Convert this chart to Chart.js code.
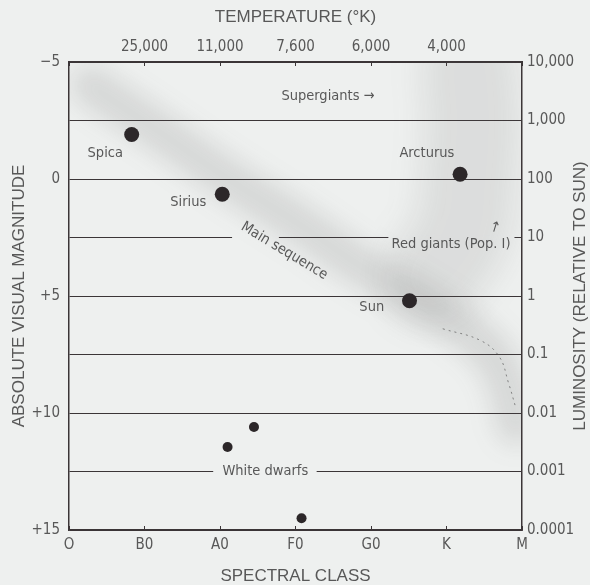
<!DOCTYPE html>
<html lang="en">
<head>
<meta charset="utf-8">
<title>Hertzsprung-Russell diagram</title>
<script src="https://cdn.jsdelivr.net/npm/chart.js@4.4.1/dist/chart.umd.min.js"></script>
<style>
  html, body { margin: 0; padding: 0; background: #eef0ef; }
  #hrChart { display: block; }
</style>
</head>
<body>
<canvas id="hrChart" width="590" height="585"></canvas>
<script>
// axis labels
const spectralClasses = ['O', 'B0', 'A0', 'F0', 'G0', 'K', 'M'];
const temperatureLabels = ['', '25,000', '11,000', '7,600', '6,000', '4,000', ''];
const magnitudeLabels = ['\u22125', '', '0', '', '+5', '', '+10', '', '+15'];
const luminosityLabels = ['10,000', '1,000', '100', '10', '1', '0.1', '0.01', '0.001', '0.0001'];

// named stars (x = spectral class position, y = absolute visual magnitude)
const brightStarNames = ['Spica', 'Sirius', 'Arcturus', 'Sun'];
const brightStarClass = [0.83, 2.03, 5.18, 4.51];
const brightStarMag = [-1.9, 0.65, -0.2, 5.2];

const whiteDwarfClass = [2.45, 2.10, 3.08];
const whiteDwarfMag = [10.6, 11.45, 14.5];

// shaded regions
const mainSequenceClass = [0.28, 1.07, 2.13, 3.06, 3.85, 4.52, 5.11, 5.58, 5.81, 5.93];
const mainSequenceMag = [-4.0, -2.3, 0.05, 1.95, 3.7, 4.95, 6.15, 7.4, 8.8, 10.5];

const giantsClass = [5.3, 5.35, 5.3, 5.2, 4.8];
const giantsMag = [-4.7, -2.5, 0.0, 2.3, 4.2];

const dwarfTailClass = [4.95, 5.45, 5.7, 5.82, 5.92];
const dwarfTailMag = [6.4, 6.9, 7.6, 8.7, 9.8];

const toPoints = (xs, ys) => xs.map((x, i) => ({ x: x, y: ys[i] }));
// tick value (magnitude) -> position in the label lists
const magIndex = (value) => Math.round((value + 5) / 2.5);

const BG = '#eef0ef';
const INK = '#3b3537';
const TEXT = '#585858';
const TICK_FONT = { family: "'DejaVu Sans Condensed', 'DejaVu Sans', sans-serif", size: 15 };
const TITLE_FONT = { family: "'Liberation Sans', Arial, sans-serif", size: 17 };

// text written on the plot, in data coordinates
const plotNotes = [
  { text: 'Supergiants \u2192', x: 3.43, y: -3.52 },
  { text: 'Spica', x: 0.48, y: -1.12 },
  { text: 'Sirius', x: 1.58, y: 0.98 },
  { text: 'Arcturus', x: 4.74, y: -1.11 },
  { text: 'Red giants (Pop. I)', x: 5.06, y: 2.78 },
  { text: '\u2191', x: 5.64, y: 2.1, rotate: 0.3 },
  { text: 'Sun', x: 4.01, y: 5.46 },
  { text: 'Main sequence', x: 2.85, y: 3.08, rotate: 0.54 },
  { text: 'White dwarfs', x: 2.6, y: 12.5 },
];

// breaks in the horizontal rules where labels sit
const ruleBreaks = [
  { from: 2.16, to: 2.78, y: 2.5 },
  { from: 4.23, to: 5.9, y: 2.5 },
  { from: 1.91, to: 3.28, y: 12.5 },
];

const blurPlugin = {
  id: 'blurPlugin',
  beforeDatasetDraw(chart, args) {
    const ds = chart.data.datasets[args.index];
    if (ds.blur) {
      chart.ctx.save();
      chart.ctx.filter = 'blur(' + ds.blur + 'px)';
    }
  },
  afterDatasetDraw(chart, args) {
    const ds = chart.data.datasets[args.index];
    if (ds.blur) {
      chart.ctx.restore();
    }
  },
};

const ruleBreakPlugin = {
  id: 'ruleBreakPlugin',
  beforeDatasetsDraw(chart) {
    const ctx = chart.ctx;
    const xs = chart.scales.x;
    const ys = chart.scales.y;
    ctx.save();
    ctx.fillStyle = BG;
    ruleBreaks.forEach((b) => {
      const x1 = xs.getPixelForValue(b.from);
      const x2 = xs.getPixelForValue(b.to);
      const y = ys.getPixelForValue(b.y);
      ctx.fillRect(x1, y - 2, x2 - x1, 4);
    });
    ctx.restore();
  },
};

const notesPlugin = {
  id: 'notesPlugin',
  afterDatasetsDraw(chart) {
    const ctx = chart.ctx;
    const xs = chart.scales.x;
    const ys = chart.scales.y;
    ctx.save();
    ctx.fillStyle = TEXT;
    ctx.font = (TICK_FONT.size - 0.5) + 'px ' + TICK_FONT.family;
    ctx.textAlign = 'center';
    ctx.textBaseline = 'middle';
    plotNotes.forEach((n) => {
      ctx.save();
      ctx.translate(xs.getPixelForValue(n.x), ys.getPixelForValue(n.y));
      if (n.rotate) ctx.rotate(n.rotate);
      ctx.fillText(n.text, 0, 0);
      ctx.restore();
    });
    ctx.restore();
  },
  afterDraw(chart) {
    // right axis title reads bottom to top, like the left one
    const ctx = chart.ctx;
    const area = chart.chartArea;
    ctx.save();
    ctx.fillStyle = TEXT;
    ctx.font = TITLE_FONT.size + 'px ' + TITLE_FONT.family;
    ctx.textAlign = 'center';
    ctx.textBaseline = 'middle';
    ctx.translate(580, (area.top + area.bottom) / 2);
    ctx.rotate(-Math.PI / 2);
    ctx.fillText('LUMINOSITY (RELATIVE TO SUN)', 0, 0);
    ctx.restore();
  },
};

document.addEventListener('DOMContentLoaded', () => {
  const initializeHrChart = () => {
    const hrCanvas = document.getElementById('hrChart');
    if (!hrCanvas) {
      console.warn('hrChart canvas not found.');
      return;
    }
    new Chart(hrCanvas.getContext('2d'), {
      type: 'scatter',
      data: {
        datasets: [
          {
            label: 'Bright stars',
            data: toPoints(brightStarClass, brightStarMag),
            backgroundColor: '#2c2729',
            borderWidth: 0,
            pointRadius: 7.5,
            order: 1,
          },
          {
            label: 'White dwarfs',
            data: toPoints(whiteDwarfClass, whiteDwarfMag),
            backgroundColor: '#2c2729',
            borderWidth: 0,
            pointRadius: 5,
            order: 1,
          },
          {
            label: 'Dwarf tail',
            data: toPoints(dwarfTailClass, dwarfTailMag),
            showLine: true,
            borderColor: 'rgba(70,70,70,0.6)',
            borderWidth: 1,
            borderDash: [2, 4],
            tension: 0.4,
            pointRadius: 0,
            order: 2,
          },
          {
            label: 'Main sequence',
            data: toPoints(mainSequenceClass, mainSequenceMag),
            showLine: true,
            borderColor: 'rgba(80,80,80,0.15)',
            borderWidth: 40,
            borderCapStyle: 'round',
            borderJoinStyle: 'round',
            tension: 0.4,
            pointRadius: 0,
            blur: 12,
            order: 3,
          },
          {
            label: 'Giants',
            data: toPoints(giantsClass, giantsMag),
            showLine: true,
            borderColor: 'rgba(90,90,90,0.12)',
            borderWidth: 95,
            borderCapStyle: 'round',
            borderJoinStyle: 'round',
            tension: 0.4,
            pointRadius: 0,
            blur: 16,
            order: 3,
          },
        ],
      },
      options: {
        responsive: false,
        animation: false,
        layout: { padding: 0 },
        plugins: {
          legend: { display: false },
          tooltip: { enabled: false },
        },
        scales: {
          x: {
            type: 'linear',
            position: 'bottom',
            min: 0,
            max: 6,
            afterFit: (s) => { s.height = 55; },
            ticks: {
              stepSize: 1,
              color: TEXT,
              font: TICK_FONT,
              padding: 10,
              maxRotation: 0,
              callback: (value) => spectralClasses[value],
            },
            grid: { drawOnChartArea: false, tickLength: -4, color: INK },
            border: { color: INK, width: 1.5 },
            title: {
              display: true,
              text: 'SPECTRAL CLASS',
              color: TEXT,
              font: { ...TITLE_FONT, lineHeight: 1 },
              padding: { top: 0, bottom: 0.5 },
            },
          },
          x2: {
            type: 'linear',
            position: 'top',
            min: 0,
            max: 6,
            afterFit: (s) => { s.height = 62; },
            ticks: {
              stepSize: 1,
              color: TEXT,
              font: TICK_FONT,
              padding: 10,
              maxRotation: 0,
              callback: (value) => temperatureLabels[value],
            },
            grid: { drawOnChartArea: false, tickLength: -4, color: INK },
            border: { color: INK, width: 1.5 },
            title: {
              display: true,
              text: 'TEMPERATURE (\u00b0K)',
              color: TEXT,
              font: TITLE_FONT,
              padding: { top: 6.8, bottom: 0 },
            },
          },
          y: {
            type: 'linear',
            position: 'left',
            min: -5,
            max: 15,
            reverse: true,
            afterFit: (s) => { s.width = 69; },
            ticks: {
              stepSize: 2.5,
              color: TEXT,
              font: TICK_FONT,
              padding: 9,
              callback: (value) => magnitudeLabels[magIndex(value)],
            },
            grid: { color: INK, lineWidth: 1, drawTicks: false },
            border: { color: INK, width: 1.5 },
            title: {
              display: true,
              text: 'ABSOLUTE VISUAL MAGNITUDE',
              color: TEXT,
              font: TITLE_FONT,
              padding: { top: 9, bottom: 0 },
            },
          },
          y2: {
            type: 'linear',
            position: 'right',
            min: -5,
            max: 15,
            reverse: true,
            afterFit: (s) => { s.width = 68; },
            ticks: {
              stepSize: 2.5,
              color: TEXT,
              font: TICK_FONT,
              padding: 5,
              callback: (value) => luminosityLabels[magIndex(value)],
            },
            grid: { drawOnChartArea: false, drawTicks: false },
            border: { color: INK, width: 1.5 },
          },
        },
      },
      plugins: [blurPlugin, ruleBreakPlugin, notesPlugin],
    });
  };

  initializeHrChart();
});
</script>
</body>
</html>
